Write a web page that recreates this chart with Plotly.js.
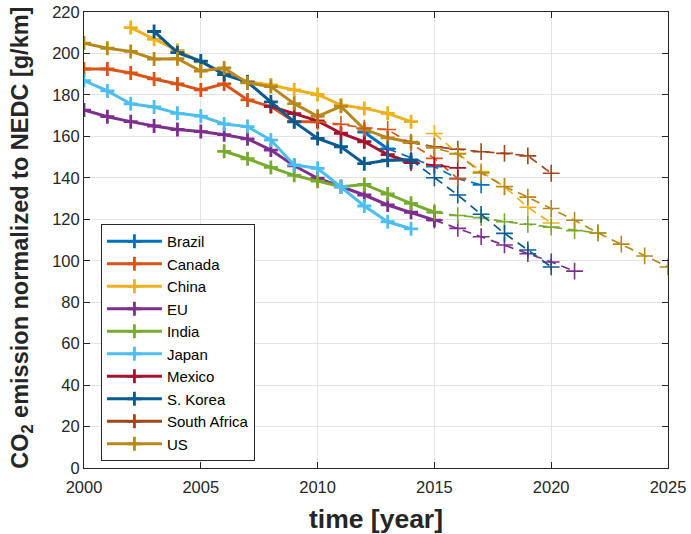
<!DOCTYPE html>
<html>
<head>
<meta charset="utf-8">
<script src="https://cdn.plot.ly/plotly-3.0.1.min.js"></script>
<style>html,body{margin:0;padding:0;background:#fff;}#chart{width:691px;height:534px;}</style>
</head>
<body>
<div id="chart"></div>
<script>
// ---- Data ----
const countries = ["Brazil","Canada","China","EU","India","Japan","Mexico","S. Korea","South Africa","US"];
const colors = ["#0072BD","#D95319","#EDB120","#7E2F8E","#77AC30","#4DBEEE","#A2142F","#0A5A8F","#A0461C","#B8881C"];

// historical (solid)
const brazilYears = [2012, 2013];
const brazilVals  = [162, 154];
const canadaYears = [2000,2001,2002,2003,2004,2005,2006,2007,2008,2009,2010];
const canadaVals  = [192.5,192.5,190.6,187.7,185.3,182.4,185.3,177.6,174.4,167.2,167];
const chinaYears  = [2002,2003,2004,2005,2006,2007,2008,2009,2010,2011,2012,2013,2014];
const chinaVals   = [212.5,206.8,201.5,196,190.5,186.4,184.8,182.4,180.2,175.1,173.5,171.1,167.1];
const euYears     = [2000,2001,2002,2003,2004,2005,2006,2007,2008,2009,2010,2011,2012,2013,2014,2015];
const euVals      = [172.7,169.5,167.1,165,163.3,162.3,160.8,158.8,153.4,145.8,139.8,135.7,131.7,126.9,123.4,119.6];
const indiaYears  = [2006,2007,2008,2009,2010,2011,2012,2013,2014,2015];
const indiaVals   = [152.8,149.2,145,141.2,138.4,135.7,136.8,132.2,127.7,123.4];
const japanYears  = [2000,2001,2002,2003,2004,2005,2006,2007,2008,2009,2010,2011,2012,2013,2014];
const japanVals   = [186.9,181.9,175.7,174.2,171.1,169.8,166,164.7,158.2,146.2,144.6,135.7,126.4,118.8,115.4];
const mexicoYears = [2008,2009,2010,2011,2012,2013,2014];
const mexicoVals  = [174.5,171,167.5,161.5,157.4,151.2,147.4];
const koreaYears  = [2003,2004,2005,2006,2007,2008,2009,2010,2011,2012,2013,2014];
const koreaVals   = [210.6,200.4,196.3,189.8,186.2,176.6,167,159,155,146.8,148.5,148.6];
const safricaYears = [];
const safricaVals  = [];
const usYears     = [2000,2001,2002,2003,2004,2005,2006,2007,2008,2009,2010,2011,2012,2013,2014];
const usVals      = [205,202.5,201,197.3,197.5,191.5,193,185.8,184,175.8,169.7,174.5,163.4,159.3,157.2];

// targets / projections (dashed)
const brazilTgtYears = [2013, 2015, 2016, 2017];
const brazilTgtVals  = [154, 145.4, 139.6, 136.6];
const canadaTgtYears = [2010, 2011, 2012, 2013, 2015, 2016];
const canadaTgtVals  = [167, 165.8, 164, 163.3, 149.4, 139.6];
const chinaTgtYears  = [2015, 2016, 2017, 2018, 2019, 2020];
const chinaTgtVals   = [161.4, 151.8, 143, 135.7, 125.8, 118.2];
const euTgtYears     = [2015, 2016, 2017, 2018, 2019, 2020, 2021];
const euTgtVals      = [119.6, 115.6, 111.6, 107.6, 103.4, 99.4, 95];
const indiaTgtYears  = [2015, 2016, 2017, 2018, 2019, 2020, 2021, 2022];
const indiaTgtVals   = [123.4, 121.8, 120.8, 118.8, 117.6, 116.2, 114.5, 113.4];
const japanTgtYears  = [];
const japanTgtVals   = [];
const mexicoTgtYears = [2014, 2015, 2016];
const mexicoTgtVals  = [147.4, 146.2, 144.8];
const koreaTgtYears  = [2014, 2015, 2016, 2017, 2018, 2019, 2020];
const koreaTgtVals   = [148.6, 140, 131.7, 122.4, 113.2, 105.2, 97];
const safricaTgtYears = [2014, 2015, 2016, 2017, 2018, 2019, 2020];
const safricaTgtVals  = [157, 155, 153.8, 152.6, 151.8, 150.6, 142.2];
const usTgtYears     = [2014, 2015, 2016, 2017, 2018, 2019, 2020, 2021, 2022, 2023, 2024, 2025];
const usTgtVals      = [157.2, 154.4, 151.5, 142.4, 135.8, 130.7, 125.2, 119.5, 113.4, 108, 102.3, 97];

const xTicks = [2000, 2005, 2010, 2015, 2020, 2025];
const yTicks = [0, 20, 40, 60, 80, 100, 120, 140, 160, 180, 200, 220];

const xTitle = 'time [year]';
const yTitle = 'CO<sub>2</sub> emission normalized to NEDC [g/km]';

// ---- Build traces ----
const hist = [
  [brazilYears, brazilVals], [canadaYears, canadaVals], [chinaYears, chinaVals],
  [euYears, euVals], [indiaYears, indiaVals], [japanYears, japanVals],
  [mexicoYears, mexicoVals], [koreaYears, koreaVals], [safricaYears, safricaVals],
  [usYears, usVals]
];
const tgt = [
  [brazilTgtYears, brazilTgtVals], [canadaTgtYears, canadaTgtVals], [chinaTgtYears, chinaTgtVals],
  [euTgtYears, euTgtVals], [indiaTgtYears, indiaTgtVals], [japanTgtYears, japanTgtVals],
  [mexicoTgtYears, mexicoTgtVals], [koreaTgtYears, koreaTgtVals], [safricaTgtYears, safricaTgtVals],
  [usTgtYears, usTgtVals]
];

const FONT = 'Liberation Sans, Arial, Helvetica, sans-serif';
const traces = [];
countries.forEach((name, i) => {
  traces.push({
    x: hist[i][0].length ? hist[i][0] : [null], y: hist[i][1].length ? hist[i][1] : [null],
    name: name, type: 'scatter', mode: 'lines+markers',
    line: {color: colors[i], width: 3},
    marker: {symbol: 'cross-thin', size: 10, color: colors[i], line: {color: colors[i], width: 2.8}},
    showlegend: true, hoverinfo: 'skip'
  });
});
countries.forEach((name, i) => {
  if (!tgt[i][0].length) return;
  traces.push({
    x: tgt[i][0], y: tgt[i][1],
    name: name + ' target', type: 'scatter', mode: 'lines+markers',
    line: {color: colors[i], width: 1.7, dash: '9px,6px'},
    marker: {symbol: 'cross-thin', size: 12, color: colors[i], line: {color: colors[i], width: 1.6}},
    showlegend: false, hoverinfo: 'skip'
  });
});

const axisCommon = {
  showline: true, linecolor: '#262626', linewidth: 1, mirror: 'ticks',
  ticks: 'inside', ticklen: 6, tickcolor: '#262626', tickwidth: 1,
  showgrid: true, gridcolor: '#e3e3e3', gridwidth: 1, zeroline: false,
  tickfont: {family: FONT, size: 16.5, color: '#262626'}
};

const layout = {
  width: 691, height: 534,
  margin: {l: 84, r: 23, t: 12, b: 66},
  paper_bgcolor: '#ffffff', plot_bgcolor: '#ffffff',
  showlegend: true,
  xaxis: Object.assign({}, axisCommon, {
    range: [2000, 2025], tickvals: xTicks, ticktext: xTicks.map(String),
    ticklabelstandoff: 4,
    title: {text: xTitle, standoff: 16,
            font: {family: FONT, size: 26.5, color: '#262626', weight: 'bold'}}
  }),
  yaxis: Object.assign({}, axisCommon, {
    range: [0, 220], tickvals: yTicks, ticktext: yTicks.map(String)
  }),
  annotations: [{
    text: yTitle, textangle: -90, showarrow: false,
    xref: 'paper', yref: 'paper', x: -0.106, y: 0.505, xanchor: 'center', yanchor: 'middle',
    font: {family: FONT, size: 23.5, color: '#262626', weight: 'bold'}
  }],
  legend: {
    x: 0.029, y: 0.535, xanchor: 'left', yanchor: 'top',
    bgcolor: '#ffffff', bordercolor: '#262626', borderwidth: 1,
    font: {family: FONT, size: 15, color: '#000000'},
    traceorder: 'normal', itemwidth: 55
  }
};

Plotly.newPlot('chart', traces, layout, {staticPlot: true, displayModeBar: false});
</script>
</body>
</html>
